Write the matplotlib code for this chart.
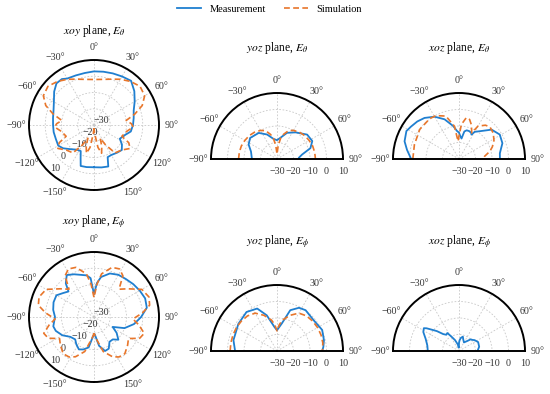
import numpy as np
import matplotlib.pyplot as plt
from matplotlib.lines import Line2D

plt.rcParams['font.family'] = ['Liberation Serif', 'DejaVu Serif']
plt.rcParams['mathtext.fontset'] = 'stix'

BLUE = '#1f7fd0'
ORANGE = '#e8762b'

# xoy plane, E_theta (full circle)
xoy_t_meas_ang = [-180, -170, -162, -158, -153, -145, -135, -127, -120, -110, -100, -90, -80, -70, -60, -50,
                  -42, -35, -30, -20, -10, 0, 10, 20, 30, 40, 50, 60, 70, 80, 90, 100, 108, 118, 125, 132,
                  140, 150, 157, 161, 170, 180]
xoy_t_meas_db = [-4.0, -3.7, -3.5, -8, -12, -11.5, -9, -6.2, -4.6, -5, -4.8, -4.8, -4.4, -3.5, -1.5, 2,
                 4.5, 4.5, 3, 2.5, 2.5, 3, 3.3, 3.8, 4.5, 5.5, 2.4, -1.1, -4, -5.2, -6, -7, -10, -12, -9, -7,
                 -7.8, -8.7, -8.5, -3, -3.5, -4]
xoy_t_sim_ang = [-180, -176, -170, -165, -160, -155, -150, -143, -132, -123, -117, -112, -101, -93, -88, -82,
                 -75, -68, -60, -50, -40, -30, -20, -10, 0, 10, 20, 30, 40, 50, 60, 68, 75, 82, 88, 93, 101,
                 112, 117, 123, 132, 143, 150, 155, 160, 165, 170, 176, 180]
xoy_t_sim_db = [-28, -25, -16, -12, -16, -21, -16, -8.5, -7, -3.5, -6, -11.5, -9.5, -5.8, -7, -10,
                -4, 2, 6, 7, 5, 2.5, 0, -1.5, -2, -1.5, 0, 2.5, 5, 7, 6, 2, -4, -10, -7, -5.8, -9.5,
                -11.5, -6, -3.5, -7, -8.5, -16, -21, -16, -12, -16, -25, -28]

# yoz plane, E_theta (half circle)
yoz_t_meas_ang = [-90, -74, -63, -52, -35, -22, -10, 0, 9, 21, 35, 51, 63, 72, 80, 87, 90]
yoz_t_meas_db = [-14.8, -13.6, -10.7, -9.3, -10.7, -14, -17.6, -18.6, -17, -13, -10.3, -6.5, -6, -8.7,
                 -14.6, -16.8, -16.8]
yoz_t_sim_ang = [-90, -80, -70, -60, -50, -40, -30, -22, -15, -10, -5, 0, 5, 10, 15, 22, 30, 40, 50, 60, 70,
                 80, 90]
yoz_t_sim_db = [-6.7, -6.8, -7, -7.5, -8, -8.8, -10, -11.5, -14.5, -17, -22, -27, -22, -17, -14.5, -11.5,
                -10, -8.8, -8, -7.5, -7, -6.8, -6.7]

# xoz plane, E_theta (half circle)
xoz_t_meas_ang = [-90, -80, -72, -62, -56, -48, -40, -30, -20, -10, -4, 0, 3, 7, 11, 15, 20, 25, 27, 30, 37,
                  48, 59, 70, 82, 90]
xoz_t_meas_db = [-1, 2, 4.7, 6.1, 5.1, 4, 2.5, -0.4, -4.4, -9.7, -13, -14, -16, -17.5, -13, -12, -12,
                 -12.5, -13.4, -11, -8.9, -3.4, -1.2, -2, -5, -5.2]
xoz_t_sim_ang = [-90, -72, -53, -36, -28, -17, -8, -3, 0, 4, 10, 15, 20, 26, 30, 38, 44, 53, 62, 70, 76, 84,
                 90]
xoz_t_sim_db = [-2, -1.6, -0.2, 0.2, -0.2, -2.8, -9.9, -19.2, -16, -9, -4.6, -5.2, -8, -12.4, -7, -4, -3,
                -4, -6, -8.5, -10.7, -14.4, -15.4]

# xoy plane, E_phi (full circle)
xoy_p_meas_ang = [-180, -177, -170, -162, -155, -147, -140, -130, -120, -110, -103, -95, -90, -80, -70, -60,
                  -52, -45, -40, -33, -25, -18, -10, -5, 0, 5, 10, 20, 30, 40, 50, 60, 70, 80, 90, 100, 110,
                  118, 125, 133, 140, 148, 155, 162, 170, 177, 180]
xoy_p_meas_db = [-19, -18, -11, -9, -8, -10, -12, -11, -7.5, -5, -4.3, -5.5, -6, -4.5, -3.5, -3.3,
                 -6, -7.8, -3, 0.8, -1, -2.7, -4, -6, -16, -9, -5, -1.5, 0, 0.5, 1.5, 2.5, 3.5, 3, -1, -5,
                 -10, -17, -13, -9.5, -12, -12, -8.5, -8, -12, -19, -19]
xoy_p_sim_ang = [-180, -175, -165, -155, -148, -140, -130, -122, -115, -108, -100, -93, -85, -78, -70, -60,
                 -50, -42, -35, -28, -20, -10, -5, 0, 5, 10, 20, 28, 35, 42, 50, 60, 70, 78, 85, 93, 100,
                 108, 115, 122, 130, 140, 148, 155, 165, 175, 180]
xoy_p_sim_db = [-20, -17, -8, -3, -1, -0.5, -3, -5, 1, 2.5, -2, -6, 0, 5, 6, 4,
                -3, -7, 1, 3.5, 2.5, -3, -10, -18, -10, -3, 2.5, 3.5, 1, -7, -3, 4, 6, 5, 0, -6, -2,
                2.5, 1, -5, -3, -0.5, -1, -3, -8, -17, -20]

# yoz plane, E_phi (half circle)
yoz_p_meas_ang = [-90, -76, -55, -38, -25, -16, -6, 0, 10, 18, 27, 35, 50, 65, 77, 85, 90]
yoz_p_meas_db = [-4.6, -2.8, -1.4, 0, -1.6, -7.5, -15.4, -17.4, -13, -4, -0.6, 0.2, -1, 0.2, -0.8, -1.8,
                 -2.6]
yoz_p_sim_ang = [-90, -80, -70, -60, -50, -40, -30, -20, -10, -5, 0, 5, 10, 20, 30, 40, 50, 60, 70, 80, 90]
yoz_p_sim_db = [-1.6, -1.6, -1.6, -1.6, -1.8, -2.2, -3.5, -7, -11, -14, -17.8, -14, -11, -7, -3.5, -2.2,
                -1.8, -1.6, -1.6, -1.8, -2.5]

# xoz plane, E_phi (half circle, measurement only)
xoz_p_meas_ang = [-90, -80, -70, -62, -57, -55, -52, -48, -43, -38, -33, -28, -20, -10, -4, 0, 3, 8, 15, 20,
                  30, 40, 45, 50, 55, 65, 78, 90]
xoz_p_meas_db = [-11.1, -10.5, -8.5, -5.5, -4.6, -6, -9, -12, -16, -17.5, -17, -20, -23, -26, -28, -25,
                 -23.5, -22, -21, -22.5, -24, -22, -20, -19.5, -18.5, -17.2, -17.5, -18.8]


def fmt_deg(a):
    return (str(a) + '\u00b0').replace('-', '\u2212')


def setup_ax(ax, half):
    ax.set_theta_zero_location('N')
    ax.set_theta_direction(-1)
    if half:
        ax.set_thetamin(-90)
        ax.set_thetamax(90)
        angs = list(range(-90, 91, 30))
    else:
        ax.set_thetalim(-np.pi, np.pi)
        angs = list(range(-150, 181, 30))
    ax.set_ylim(-30, 10)
    ax.set_yticks([-30, -20, -10, 0, 10])
    ax.set_yticklabels([str(v).replace('-', '\u2212') for v in [-30, -20, -10, 0, 10]])
    if half:
        ax.set_thetagrids(angs, [fmt_deg(a) for a in angs])
        ax.tick_params(axis='y', labelleft=False, labelright=True)
        for s in ['start', 'end']:
            ax.spines[s].set_linewidth(1.4)
            ax.spines[s].set_color('black')
    else:
        ax.set_thetagrids(angs, [fmt_deg(a) if a != 180 else '' for a in angs])
        ax.set_rlabel_position(-137)
    ax.spines['polar'].set_linewidth(1.4)
    ax.spines['polar'].set_color('black')
    ax.grid(color='#c8c8c8', linestyle=(0, (2, 2)), linewidth=0.6)
    ax.tick_params(axis='both', labelsize=7.2, labelcolor='#333333')
    ax.tick_params(axis='x', pad=-1.5)
    ax.tick_params(axis='y', pad=2)


fig = plt.figure(figsize=(5.5, 3.94), dpi=100)
W, H = 550.0, 394.0


def full_axes(cx, cy, r):
    return fig.add_axes([(cx - r) / W, (H - cy - r) / H, 2 * r / W, 2 * r / H], projection='polar')


def half_axes(cx, cy, r):
    # the half wedge sits centred in a square box
    by = cy - r / 2
    return fig.add_axes([(cx - r) / W, (H - by - r) / H, 2 * r / W, 2 * r / H], projection='polar')


ax1 = full_axes(94, 125, 65)
ax2 = half_axes(277, 159, 66)
ax3 = half_axes(459, 159, 66)
ax4 = full_axes(94, 317, 65)
ax5 = half_axes(277, 351, 66)
ax6 = half_axes(459, 351, 66)

dash = (0, (3.5, 2))
ax1.plot(np.deg2rad(xoy_t_meas_ang), xoy_t_meas_db, color=BLUE, lw=1.3)
ax1.plot(np.deg2rad(xoy_t_sim_ang), xoy_t_sim_db, color=ORANGE, lw=1.2, ls=dash)
ax2.plot(np.deg2rad(yoz_t_meas_ang), yoz_t_meas_db, color=BLUE, lw=1.3)
ax2.plot(np.deg2rad(yoz_t_sim_ang), yoz_t_sim_db, color=ORANGE, lw=1.2, ls=dash)
ax3.plot(np.deg2rad(xoz_t_meas_ang), xoz_t_meas_db, color=BLUE, lw=1.3)
ax3.plot(np.deg2rad(xoz_t_sim_ang), xoz_t_sim_db, color=ORANGE, lw=1.2, ls=dash)
ax4.plot(np.deg2rad(xoy_p_meas_ang), xoy_p_meas_db, color=BLUE, lw=1.3)
ax4.plot(np.deg2rad(xoy_p_sim_ang), xoy_p_sim_db, color=ORANGE, lw=1.2, ls=dash)
ax5.plot(np.deg2rad(yoz_p_meas_ang), yoz_p_meas_db, color=BLUE, lw=1.3)
ax5.plot(np.deg2rad(yoz_p_sim_ang), yoz_p_sim_db, color=ORANGE, lw=1.2, ls=dash)
ax6.plot(np.deg2rad(xoz_p_meas_ang), xoz_p_meas_db, color=BLUE, lw=1.3)

setup_ax(ax1, False)
setup_ax(ax2, True)
setup_ax(ax3, True)
setup_ax(ax4, False)
setup_ax(ax5, True)
setup_ax(ax6, True)

titles = [(94, 31, r'$\mathit{xoy}$ plane, $E_\theta$'),
          (277, 48, r'$\mathit{yoz}$ plane, $E_\theta$'),
          (459, 48, r'$\mathit{xoz}$ plane, $E_\theta$'),
          (94, 222, r'$\mathit{xoy}$ plane, $E_\phi$'),
          (277, 242, r'$\mathit{yoz}$ plane, $E_\phi$'),
          (459, 242, r'$\mathit{xoz}$ plane, $E_\phi$')]
for x, y, t in titles:
    fig.text(x / W, 1 - y / H, t, ha='center', va='center', fontsize=8.3)

handles = [Line2D([], [], color=BLUE, lw=1.3),
           Line2D([], [], color=ORANGE, lw=1.2, ls=dash)]
fig.legend(handles, ['Measurement', 'Simulation'], loc='center', bbox_to_anchor=(0.49, 1 - 9 / H),
           ncol=2, frameon=False, fontsize=7.5, handlelength=2.3, handletextpad=0.8, columnspacing=1.7)

fig.savefig('out.png', dpi=100)
